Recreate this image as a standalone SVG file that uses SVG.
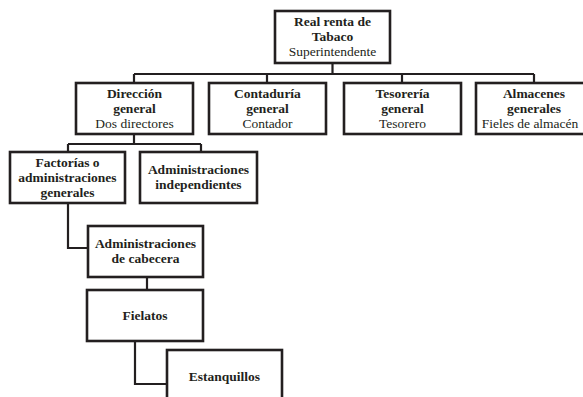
<svg xmlns="http://www.w3.org/2000/svg" width="583" height="397" viewBox="0 0 583 397">
<style>
.box{fill:#fff;stroke:#231f20;stroke-width:2.6}
.con{fill:none;stroke:#231f20;stroke-width:2.2}
.b{font-weight:bold}
</style>
<rect width="583" height="397" fill="#fff"/>
<g id="connectors">
<path class="con" d="M332.5 63V74M134 74H534M134 74V83M267 74V83M402 74V83M534 74V83"/>
<path class="con" d="M134 134V144M68 144H201M68 144V152M201 144V152"/>
<path class="con" d="M68 203V248H88"/>
<path class="con" d="M147 277V290"/>
<path class="con" d="M135 341V384H167"/>
</g>
<g font-family="'Liberation Serif', 'DejaVu Serif', serif" font-size="13.5" fill="#231f20" text-anchor="middle">
<g id="n-real">
<rect class="box" x="275" y="11" width="115" height="52"/>
<text class="b" x="332.5" y="26">Real renta de</text>
<text class="b" x="332.5" y="41">Tabaco</text>
<text x="332.5" y="56">Superintendente</text>
</g>
<g id="n-direccion">
<rect class="box" x="76" y="83" width="117" height="51"/>
<text class="b" x="134.5" y="98">Dirección</text>
<text class="b" x="134.5" y="113">general</text>
<text x="134.5" y="128">Dos directores</text>
</g>
<g id="n-contaduria">
<rect class="box" x="209" y="83" width="117" height="51"/>
<text class="b" x="267.5" y="98">Contaduría</text>
<text class="b" x="267.5" y="113">general</text>
<text x="267.5" y="128">Contador</text>
</g>
<g id="n-tesoreria">
<rect class="box" x="344" y="83" width="117" height="51"/>
<text class="b" x="402.5" y="98">Tesorería</text>
<text class="b" x="402.5" y="113">general</text>
<text x="402.5" y="128">Tesorero</text>
</g>
<g id="n-almacenes">
<rect class="box" x="476" y="83" width="117" height="51"/>
<text class="b" x="534" y="98">Almacenes</text>
<text class="b" x="534" y="113">generales</text>
<text x="530" y="128">Fieles de almacén</text>
</g>
<g id="n-factorias">
<rect class="box" x="10" y="152" width="115" height="51"/>
<text class="b" x="67.5" y="167">Factorías o</text>
<text class="b" x="67.5" y="182">administraciones</text>
<text class="b" x="67.5" y="197">generales</text>
</g>
<g id="n-independientes">
<rect class="box" x="140" y="152" width="117" height="51"/>
<text class="b" x="198.5" y="174">Administraciones</text>
<text class="b" x="198.5" y="189">independientes</text>
</g>
<g id="n-cabecera">
<rect class="box" x="88" y="226" width="115" height="51"/>
<text class="b" x="145.5" y="248">Administraciones</text>
<text class="b" x="145.5" y="263">de cabecera</text>
</g>
<g id="n-fielatos">
<rect class="box" x="87" y="290" width="116" height="51"/>
<text class="b" x="145" y="320">Fielatos</text>
</g>
<g id="n-estanquillos">
<rect class="box" x="167" y="350" width="115" height="51"/>
<text class="b" x="224.5" y="381">Estanquillos</text>
</g>
</g>
</svg>
